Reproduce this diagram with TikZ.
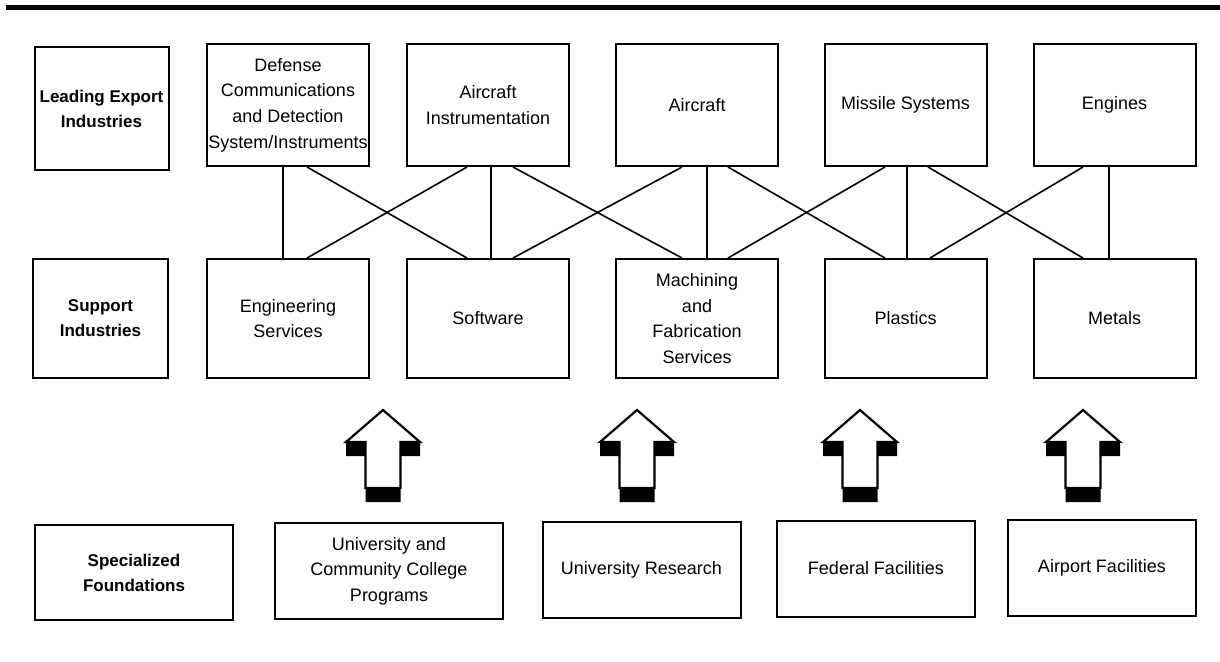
\documentclass[tikz,border=0pt]{standalone}
\usepackage{fontspec}
\setmainfont{Liberation Sans}
\usetikzlibrary{positioning,calc}
\tikzstyle{ibox}=[rectangle, draw=black, line width=1pt, fill=white,
                  minimum width=81pt, minimum height=61pt, inner sep=0.5pt,
                  align=center, font=\fontsize{9}{12.8}\selectfont]
\tikzstyle{sbox}=[ibox, minimum height=59.5pt]
\tikzstyle{hbox}=[ibox, minimum width=67pt, font=\bfseries\fontsize{8.5}{12.5}\selectfont]
\tikzstyle{fndbox}=[ibox, minimum width=99pt, minimum height=48pt]
\tikzstyle{pline}=[-, line width=0.8pt]
\tikzstyle{ashadow}=[fill=black]
\tikzstyle{abody}=[draw=black, line width=1.1pt, fill=white, line join=miter]

\begin{document}
\begin{tikzpicture}[x=0.5pt, y=-0.5pt]
\useasboundingbox (0,0) rectangle (1220,661);
\fill[black] (6,5) rectangle (1220,10);

% leading export industries
\node (LEAD) [hbox, minimum height=61.5pt] at (101.5,108.5) {Leading Export\\Industries};
\node (DEF) [ibox] at (288,105) {Defense\\Communications\\and Detection\\System/Instruments};
\node (AIN) [ibox] at (488,105) {Aircraft\\Instrumentation};
\node (AIR) [ibox] at (697,105) {Aircraft};
\node (MIS) [ibox] at (905.5,105) {Missile Systems};
\node (ENG) [ibox] at (1114.5,105) {Engines};

% support industries
\node (SUP) [hbox, minimum width=67.5pt, minimum height=59.5pt] at (100.5,318.5) {Support\\Industries};
\node (ENGS) [sbox] at (288,318.5) {Engineering\\Services};
\node (SOFT) [sbox] at (488,318.5) {Software};
\node (MACH) [sbox] at (697,318.5) {Machining\\and\\Fabrication\\Services};
\node (PLAS) [sbox] at (905.5,318.5) {Plastics};
\node (MET) [sbox] at (1114.5,318.5) {Metals};

% specialized foundations
\node (SPEC) [hbox, minimum width=99pt, minimum height=47.5pt] at (134,572.5) {Specialized\\Foundations};
\node (UCC) [fndbox, minimum width=114pt] at (389,571) {University and\\Community College\\Programs};
\node (UR) [fndbox] at (641.5,569.5) {University Research};
\node (FED) [fndbox] at (876,568.5) {Federal Facilities};
\node (AIRP) [fndbox, minimum width=94pt] at (1102,567.5) {Airport Facilities};

% links between the two rows
\draw[pline] ($(DEF.south)+(-5,0)$) -- ($(ENGS.north)+(-5,0)$);
\draw[pline] ($(DEF.south)+(19,0)$) -- ($(SOFT.north)+(-21,0)$);
\draw[pline] ($(ENGS.north)+(19,0)$) -- ($(AIN.south)+(-21,0)$);
\draw[pline] ($(AIN.south)+(3,0)$) -- ($(SOFT.north)+(3,0)$);
\draw[pline] ($(AIN.south)+(25,0)$) -- ($(MACH.north)+(-15,0)$);
\draw[pline] ($(SOFT.north)+(25,0)$) -- ($(AIR.south)+(-15,0)$);
\draw[pline] ($(AIR.south)+(10,0)$) -- ($(MACH.north)+(10,0)$);
\draw[pline] ($(AIR.south)+(31,0)$) -- ($(PLAS.north)+(-20.5,0)$);
\draw[pline] ($(MACH.north)+(31,0)$) -- ($(MIS.south)+(-20.5,0)$);
\draw[pline] ($(MIS.south)+(1.5,0)$) -- ($(PLAS.north)+(1.5,0)$);
\draw[pline] ($(MIS.south)+(22.5,0)$) -- ($(MET.north)+(-31.5,0)$);
\draw[pline] ($(PLAS.north)+(24.5,0)$) -- ($(ENG.south)+(-31.5,0)$);
\draw[pline] ($(ENG.south)+(-5.5,0)$) -- ($(MET.north)+(-5.5,0)$);

% block arrows (tail points)
\coordinate (ARR1) at (383,488);
\coordinate (ARR2) at (637,488);
\coordinate (ARR3) at (860,488);
\coordinate (ARR4) at (1083,488);

\fill[ashadow] (ARR1) ++(-17.5,14) -- ++(0,-46) -- ++(-19.5,0) -- ++(0,-14) -- ++(37,-32) -- ++(37,32) -- ++(0,14) -- ++(-19.5,0) -- ++(0,46) -- cycle;
\filldraw[abody] (ARR1) ++(-17.5,0) -- ++(0,-46) -- ++(-19.5,0) -- ++(37,-32) -- ++(37,32) -- ++(-19.5,0) -- ++(0,46) -- cycle;
\fill[ashadow] (ARR2) ++(-17.5,14) -- ++(0,-46) -- ++(-19.5,0) -- ++(0,-14) -- ++(37,-32) -- ++(37,32) -- ++(0,14) -- ++(-19.5,0) -- ++(0,46) -- cycle;
\filldraw[abody] (ARR2) ++(-17.5,0) -- ++(0,-46) -- ++(-19.5,0) -- ++(37,-32) -- ++(37,32) -- ++(-19.5,0) -- ++(0,46) -- cycle;
\fill[ashadow] (ARR3) ++(-17.5,14) -- ++(0,-46) -- ++(-19.5,0) -- ++(0,-14) -- ++(37,-32) -- ++(37,32) -- ++(0,14) -- ++(-19.5,0) -- ++(0,46) -- cycle;
\filldraw[abody] (ARR3) ++(-17.5,0) -- ++(0,-46) -- ++(-19.5,0) -- ++(37,-32) -- ++(37,32) -- ++(-19.5,0) -- ++(0,46) -- cycle;
\fill[ashadow] (ARR4) ++(-17.5,14) -- ++(0,-46) -- ++(-19.5,0) -- ++(0,-14) -- ++(37,-32) -- ++(37,32) -- ++(0,14) -- ++(-19.5,0) -- ++(0,46) -- cycle;
\filldraw[abody] (ARR4) ++(-17.5,0) -- ++(0,-46) -- ++(-19.5,0) -- ++(37,-32) -- ++(37,32) -- ++(-19.5,0) -- ++(0,46) -- cycle;

\end{tikzpicture}
\end{document}
